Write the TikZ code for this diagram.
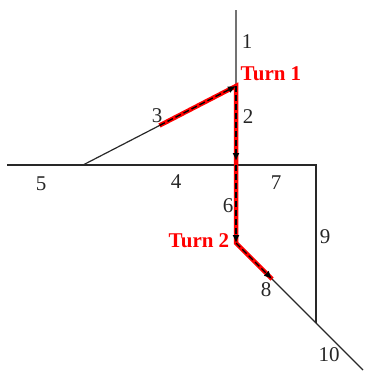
\documentclass[tikz,border=0pt]{standalone}
\usepackage{fontspec}
\setmainfont{Liberation Serif}
\usetikzlibrary{arrows.meta,positioning,calc}
\definecolor{roadgray}{RGB}{40,40,40}
\definecolor{turnred}{RGB}{255,0,0}
\tikzset{
  road/.style={draw=roadgray, line width=1.2pt},
  routebase/.style={draw=turnred, line width=4.5pt},
  routedash/.style={draw=black, line width=1.4pt, dash pattern=on 6pt off 3pt, -{Latex[length=8pt,width=7pt]}},
  seglabel/.style={font=\fontsize{21}{24}\selectfont, text=black!85, inner sep=1pt},
  turnlabel/.style={font=\fontsize{21}{24}\selectfont\bfseries, text=turnred, inner sep=1pt}
}
\begin{document}
\begin{tikzpicture}[x=1pt, y=-1pt]
  \useasboundingbox (0,0) rectangle (366,373);

  % junctions
  \coordinate (top) at (236,10);
  \coordinate (turnA) at (236,86);
  \coordinate (cross) at (236,165);
  \coordinate (turnB) at (236,243);
  \coordinate (west) at (7,165);
  \coordinate (fork) at (83,165);
  \coordinate (corner) at (316,165);
  \coordinate (meet) at (316,323);
  \coordinate (south) at (363,370);
  \coordinate (start) at ($(fork)!0.5!(turnA)$);
  \coordinate (finish) at (272,279);

  % roads
  \draw[road] (top) -- (turnB) -- (south);
  \draw[road] (west) -- (corner) -- (meet);
  \draw[road] (fork) -- (turnA);

  % route
  \draw[routebase] (start) -- (turnA) -- (turnB) -- (finish);
  \draw[routedash] (start) -- (turnA);
  \draw[routedash, shorten >=4pt] (turnA) -- (cross);
  \draw[routedash] (cross) -- (turnB);
  \draw[routedash] (turnB) -- (finish);

  % labels
  \node[seglabel] (l1) at (247,42) {1};
  \node[seglabel] (l2) at (248,117) {2};
  \node[seglabel] (l3) at (157,116) {3};
  \node[seglabel] (l4) at (176,182) {4};
  \node[seglabel] (l5) at (41,184) {5};
  \node[seglabel] (l6) at (228,206) {6};
  \node[seglabel] (l7) at (276,183) {7};
  \node[seglabel] (l8) at (266,290) {8};
  \node[seglabel] (l9) at (325,237) {9};
  \node[seglabel] (l10) at (329,355) {10};
  \node[turnlabel] (t1) at (271,74) {Turn 1};
  \node[turnlabel] (t2) at (199,241) {Turn 2};
\end{tikzpicture}
\end{document}
